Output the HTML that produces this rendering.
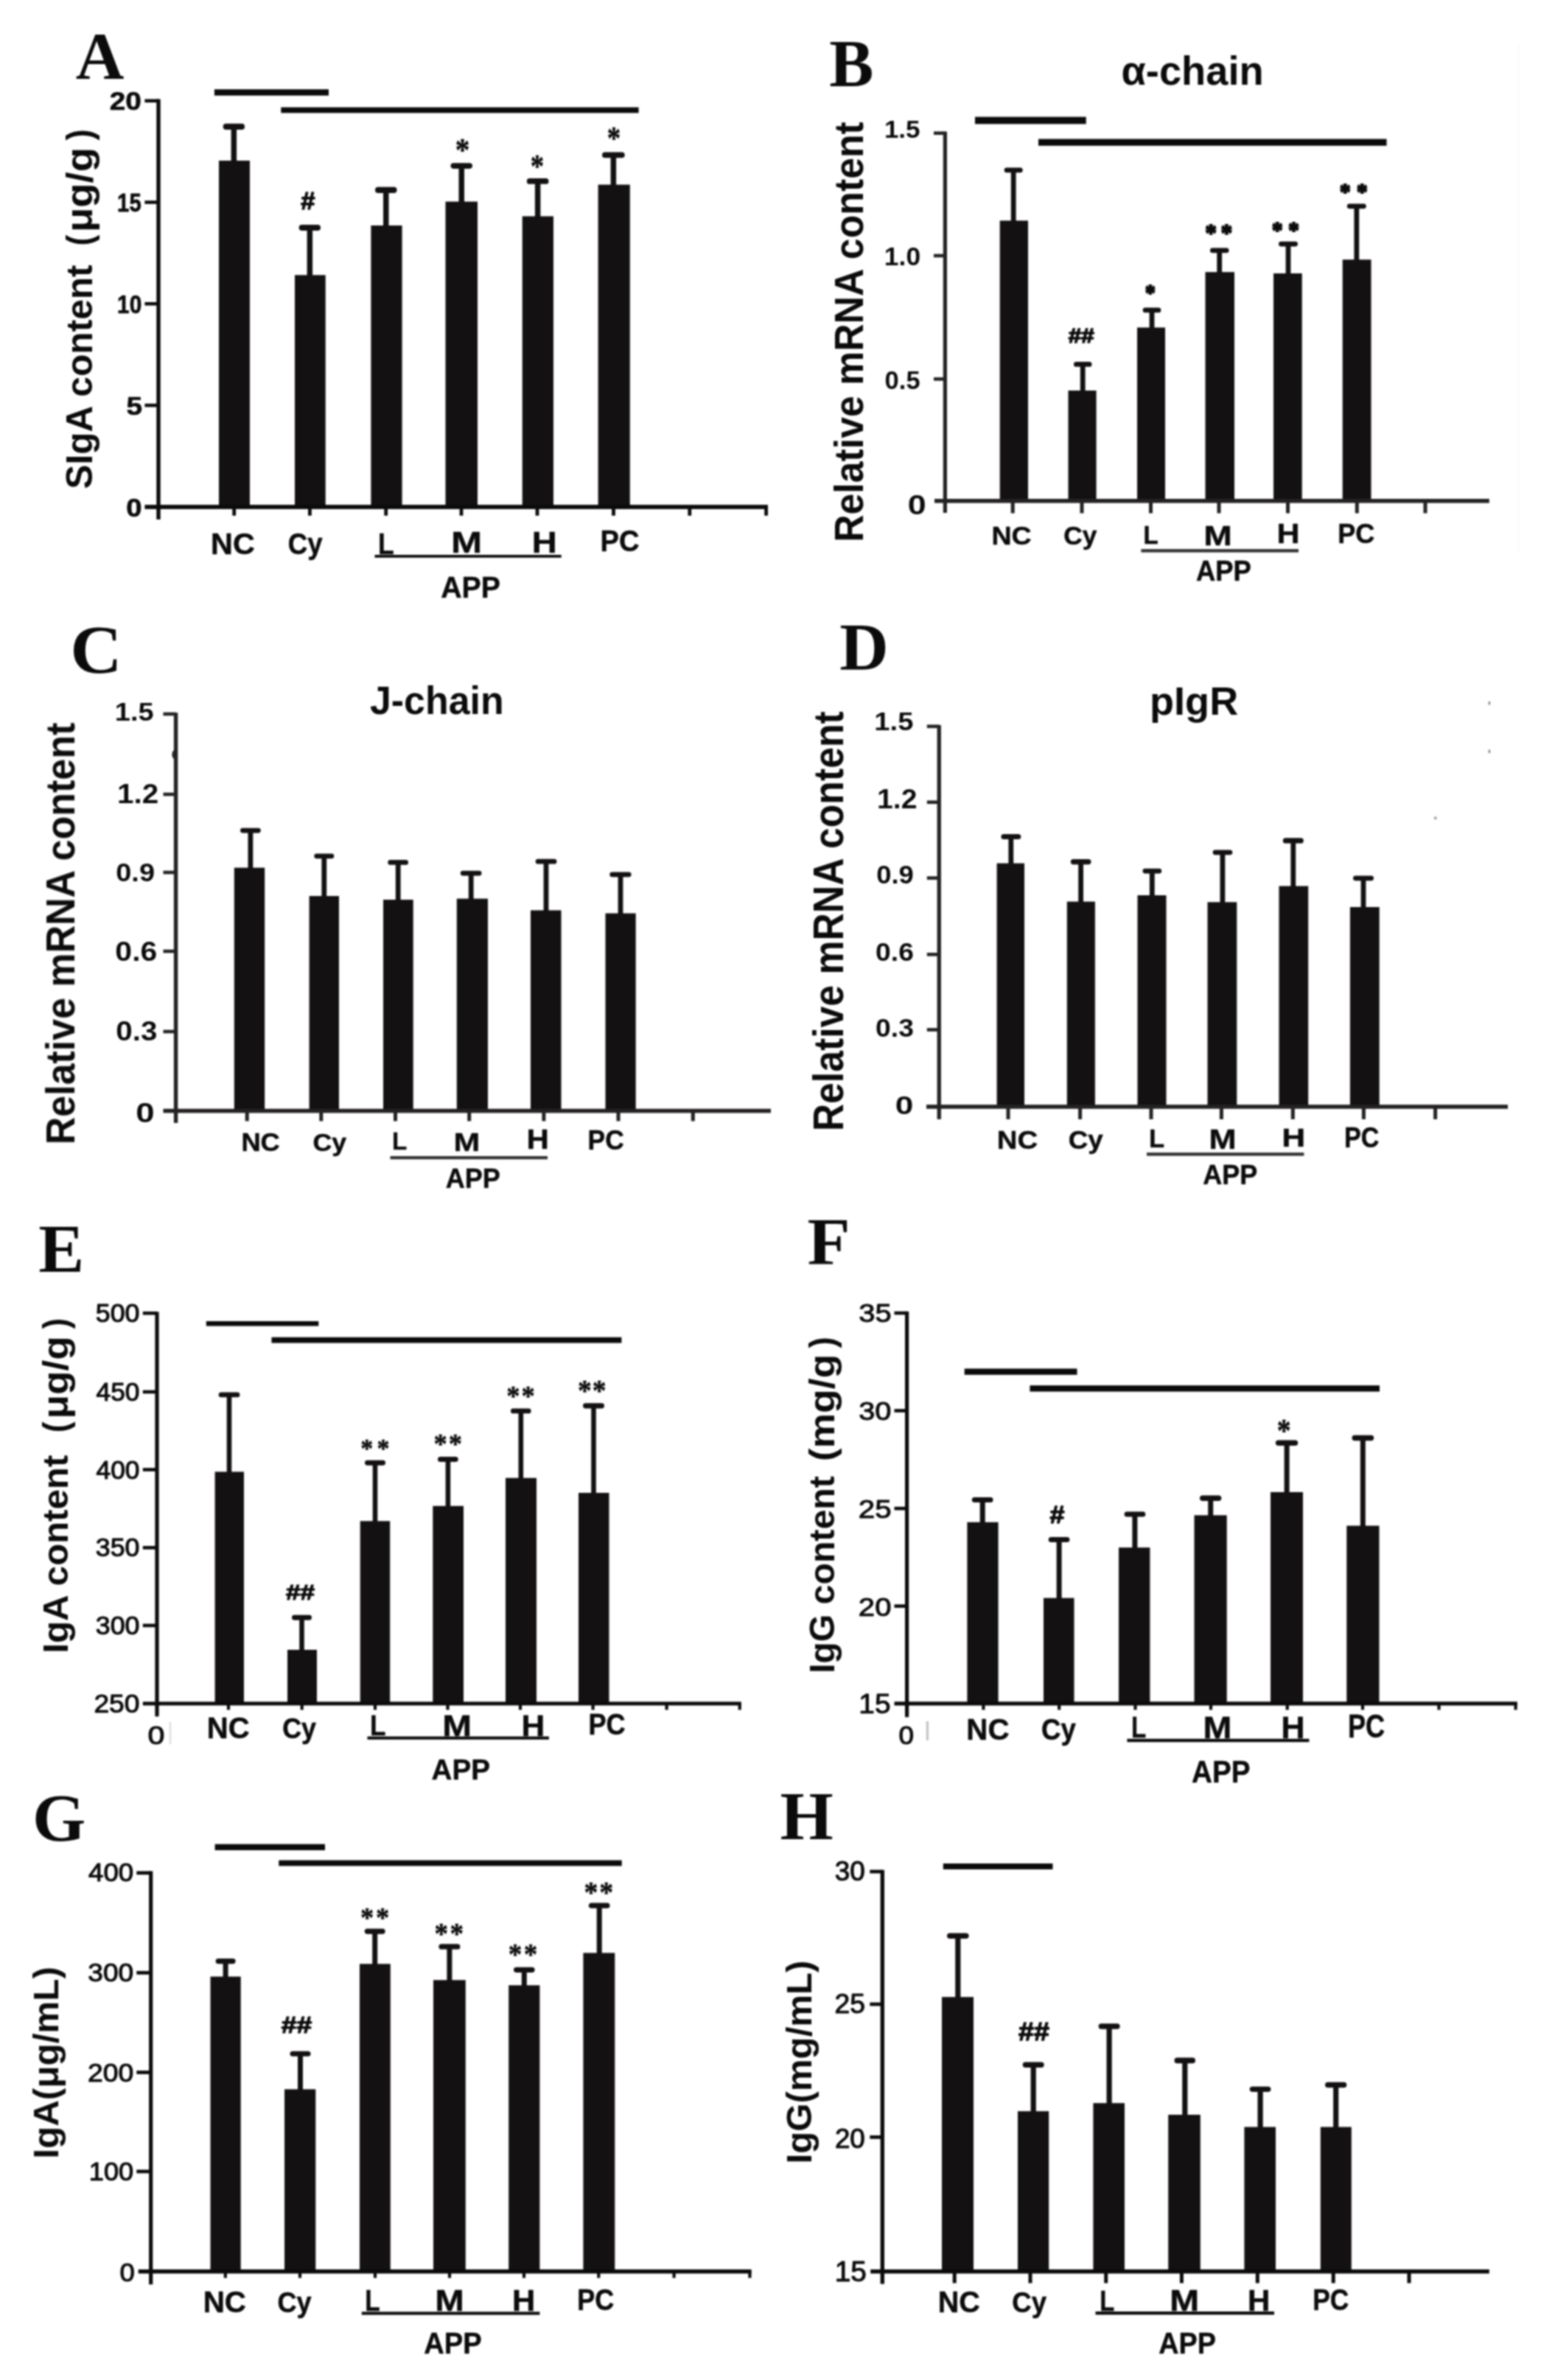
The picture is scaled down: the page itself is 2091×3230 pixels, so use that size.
<!DOCTYPE html>
<html lang="en"><head><meta charset="utf-8"><title>Figure: SIgA, IgA and IgG content</title>
<style>
html,body{margin:0;padding:0;background:#fff;}
body{width:2091px;height:3230px;overflow:hidden;}
svg{display:block;}
text{white-space:pre;}
</style></head><body>
<svg width="2091" height="3230" viewBox="0 0 2091 3230">
<defs><filter id="soft" color-interpolation-filters="sRGB" x="0" y="0" width="2091" height="3230" filterUnits="userSpaceOnUse"><feGaussianBlur stdDeviation="1"/></filter></defs>
<rect x="0" y="0" width="2091" height="3230" fill="#ffffff"/>
<g filter="url(#soft)">
<g id="panel-A">
<rect x="297.0" y="218.0" width="42.0" height="470.0" fill="#141112"/>
<rect x="313.6" y="171.9" width="7.5" height="47.1" fill="#141112"/>
<rect x="302.7" y="167.8" width="29.3" height="8.1" rx="4.0" fill="#141112"/>
<rect x="400.0" y="373.3" width="41.7" height="314.7" fill="#141112"/>
<rect x="416.6" y="309.0" width="7.5" height="65.3" fill="#141112"/>
<rect x="405.6" y="305.0" width="29.4" height="8.0" rx="4.0" fill="#141112"/>
<rect x="503.4" y="306.0" width="42.2" height="382.0" fill="#141112"/>
<rect x="520.0" y="257.9" width="7.5" height="49.1" fill="#141112"/>
<rect x="509.0" y="253.8" width="29.5" height="8.2" rx="4.1" fill="#141112"/>
<rect x="604.5" y="273.6" width="43.5" height="414.4" fill="#141112"/>
<rect x="622.5" y="225.1" width="7.5" height="49.5" fill="#141112"/>
<rect x="611.5" y="221.3" width="29.5" height="7.6" rx="3.8" fill="#141112"/>
<rect x="708.7" y="293.5" width="42.3" height="394.5" fill="#141112"/>
<rect x="725.9" y="245.9" width="7.5" height="48.6" fill="#141112"/>
<rect x="714.8" y="242.0" width="29.7" height="7.8" rx="3.9" fill="#141112"/>
<rect x="811.6" y="250.6" width="43.2" height="437.4" fill="#141112"/>
<rect x="828.6" y="210.4" width="7.5" height="41.2" fill="#141112"/>
<rect x="817.0" y="206.6" width="30.7" height="7.6" rx="3.8" fill="#141112"/>
<rect x="212.3" y="134.5" width="5.4" height="570.5" fill="#0c0b0b"/>
<rect x="196.4" y="685.1" width="845.6" height="5.8" fill="#0c0b0b"/>
<rect x="196.4" y="134.5" width="18.6" height="4.6" fill="#0c0b0b"/>
<rect x="196.4" y="272.2" width="18.6" height="4.6" fill="#0c0b0b"/>
<rect x="196.4" y="410.0" width="18.6" height="4.6" fill="#0c0b0b"/>
<rect x="196.4" y="547.8" width="18.6" height="4.6" fill="#0c0b0b"/>
<rect x="315.3" y="688.0" width="4.8" height="11.8" fill="#0c0b0b"/>
<rect x="418.0" y="688.0" width="4.8" height="11.8" fill="#0c0b0b"/>
<rect x="521.3" y="688.0" width="4.8" height="11.8" fill="#0c0b0b"/>
<rect x="623.6" y="688.0" width="4.8" height="11.8" fill="#0c0b0b"/>
<rect x="726.6" y="688.0" width="4.8" height="11.8" fill="#0c0b0b"/>
<rect x="830.1" y="688.0" width="4.8" height="11.8" fill="#0c0b0b"/>
<rect x="933.4" y="688.0" width="4.8" height="11.8" fill="#0c0b0b"/>
<rect x="1037.2" y="688.0" width="4.8" height="11.8" fill="#0c0b0b"/>
<text transform="translate(148.69 149.30) scale(0.1937 0.1739)" font-family='"Liberation Sans", sans-serif' font-weight="bold" font-size="200" fill="#0c0b0b" stroke="#0c0b0b" stroke-width="3.8" stroke-linejoin="round">20</text>
<text transform="translate(159.09 286.60) scale(0.1468 0.1757)" font-family='"Liberation Sans", sans-serif' font-weight="bold" font-size="200" fill="#0c0b0b" stroke="#0c0b0b" stroke-width="4.3" stroke-linejoin="round">15</text>
<text transform="translate(159.06 424.50) scale(0.1490 0.1739)" font-family='"Liberation Sans", sans-serif' font-weight="bold" font-size="200" fill="#0c0b0b" stroke="#0c0b0b" stroke-width="4.3" stroke-linejoin="round">10</text>
<text transform="translate(171.58 562.89) scale(0.1950 0.1779)" font-family='"Liberation Sans", sans-serif' font-weight="bold" font-size="200" fill="#0c0b0b" stroke="#0c0b0b" stroke-width="3.8" stroke-linejoin="round">5</text>
<text transform="translate(171.22 701.30) scale(0.1916 0.1768)" font-family='"Liberation Sans", sans-serif' font-weight="bold" font-size="200" fill="#0c0b0b" stroke="#0c0b0b" stroke-width="3.8" stroke-linejoin="round">0</text>
<rect x="290.9" y="121.2" width="155.1" height="8.5" fill="#0c0b0b"/>
<rect x="381.3" y="145.6" width="485.3" height="7.7" fill="#0c0b0b"/>
<text transform="translate(408.13 284.35) scale(0.1733 0.1669)" font-family='"Liberation Sans", sans-serif' font-weight="bold" font-size="200" fill="#0c0b0b" stroke="#0c0b0b" stroke-width="7.6" stroke-linejoin="round">#</text>
<text transform="translate(617.68 217.67) scale(0.1964 0.2267)" font-family='"Liberation Serif", serif' font-weight="bold" font-size="200" fill="#0c0b0b" stroke="#0c0b0b" stroke-width="2.4" stroke-linejoin="round">*</text>
<text transform="translate(719.77 239.67) scale(0.1845 0.2267)" font-family='"Liberation Serif", serif' font-weight="bold" font-size="200" fill="#0c0b0b" stroke="#0c0b0b" stroke-width="2.4" stroke-linejoin="round">*</text>
<text transform="translate(823.77 202.29) scale(0.1845 0.2200)" font-family='"Liberation Serif", serif' font-weight="bold" font-size="200" fill="#0c0b0b" stroke="#0c0b0b" stroke-width="2.5" stroke-linejoin="round">*</text>
<text transform="translate(286.06 752.35) scale(0.2070 0.2036)" font-family='"Liberation Sans", sans-serif' font-weight="bold" font-size="200" fill="#0c0b0b" stroke="#0c0b0b" stroke-width="2.4" stroke-linejoin="round">NC</text>
<text transform="translate(390.78 752.35) scale(0.1833 0.2007)" font-family='"Liberation Sans", sans-serif' font-weight="bold" font-size="200" fill="#0c0b0b" stroke="#0c0b0b" stroke-width="2.6" stroke-linejoin="round">Cy</text>
<text transform="translate(512.94 751.75) scale(0.1777 0.2029)" font-family='"Liberation Sans", sans-serif' font-weight="bold" font-size="200" fill="#0c0b0b" stroke="#0c0b0b" stroke-width="2.6" stroke-linejoin="round">L</text>
<text transform="translate(611.95 749.75) scale(0.2536 0.2014)" font-family='"Liberation Sans", sans-serif' font-weight="bold" font-size="200" fill="#0c0b0b" stroke="#0c0b0b" stroke-width="2.2" stroke-linejoin="round">M</text>
<text transform="translate(721.78 749.75) scale(0.2364 0.2014)" font-family='"Liberation Sans", sans-serif' font-weight="bold" font-size="200" fill="#0c0b0b" stroke="#0c0b0b" stroke-width="2.3" stroke-linejoin="round">H</text>
<text transform="translate(814.47 748.45) scale(0.1907 0.2080)" font-family='"Liberation Sans", sans-serif' font-weight="bold" font-size="200" fill="#0c0b0b" stroke="#0c0b0b" stroke-width="2.5" stroke-linejoin="round">PC</text>
<rect x="508.5" y="753.0" width="253.2" height="3.8" fill="#0c0b0b"/>
<text transform="translate(598.27 810.75) scale(0.1963 0.2029)" font-family='"Liberation Sans", sans-serif' font-weight="bold" font-size="200" fill="#0c0b0b" stroke="#0c0b0b" stroke-width="2.5" stroke-linejoin="round">APP</text>
<text transform="translate(124.50 662.20) rotate(-90) scale(0.2483 0.2471)" x="-6.0" font-family='"Liberation Sans", sans-serif' font-weight="bold" font-size="200" fill="#0c0b0b">SIgA content</text>
<text transform="translate(124.50 331.40) rotate(-90) scale(0.2214 0.2471)" x="-10.0" font-family='"Liberation Sans", sans-serif' font-weight="bold" font-size="200" fill="#0c0b0b">(</text>
<text transform="translate(124.50 311.20) rotate(-90) scale(0.2722 0.2471)" x="-14.0" font-family='"Liberation Sans", sans-serif' font-weight="bold" font-size="200" fill="#0c0b0b">μg/g</text>
<text transform="translate(124.50 190.50) rotate(-90) scale(0.2316 0.2471)" x="0.0" font-family='"Liberation Sans", sans-serif' font-weight="bold" font-size="200" fill="#0c0b0b">)</text>
<text transform="translate(102.69 107.00) scale(0.4546 0.4545)" font-family='"Liberation Serif", serif' font-weight="bold" font-size="200" fill="#0c0b0b">A</text>
</g>
<g id="panel-B">
<rect x="1356.7" y="299.4" width="38.3" height="380.4" fill="#141112"/>
<rect x="1371.8" y="230.8" width="6.8" height="69.5" fill="#141112"/>
<rect x="1362.7" y="227.5" width="25.0" height="6.7" rx="3.3" fill="#141112"/>
<rect x="1449.5" y="530.0" width="38.1" height="149.8" fill="#141112"/>
<rect x="1465.8" y="494.4" width="6.8" height="36.6" fill="#141112"/>
<rect x="1457.0" y="491.0" width="24.5" height="6.8" rx="3.4" fill="#141112"/>
<rect x="1543.0" y="444.5" width="38.0" height="235.3" fill="#141112"/>
<rect x="1559.6" y="420.9" width="6.8" height="24.6" fill="#141112"/>
<rect x="1550.7" y="417.5" width="24.6" height="6.8" rx="3.4" fill="#141112"/>
<rect x="1635.5" y="369.2" width="39.5" height="310.6" fill="#141112"/>
<rect x="1651.3" y="339.9" width="6.8" height="30.3" fill="#141112"/>
<rect x="1642.0" y="336.5" width="25.5" height="6.7" rx="3.3" fill="#141112"/>
<rect x="1728.0" y="371.0" width="38.7" height="308.8" fill="#141112"/>
<rect x="1744.6" y="331.1" width="6.8" height="40.9" fill="#141112"/>
<rect x="1735.0" y="327.7" width="26.0" height="6.8" rx="3.4" fill="#141112"/>
<rect x="1821.7" y="352.3" width="38.8" height="327.5" fill="#141112"/>
<rect x="1837.4" y="279.8" width="6.8" height="73.5" fill="#141112"/>
<rect x="1827.8" y="276.4" width="26.0" height="6.8" rx="3.4" fill="#141112"/>
<rect x="1279.8" y="178.6" width="5.2" height="517.4" fill="#242222"/>
<rect x="1268.0" y="677.0" width="752.8" height="5.6" fill="#242222"/>
<rect x="1267.0" y="178.4" width="15.4" height="4.6" fill="#242222"/>
<rect x="1267.0" y="344.7" width="15.4" height="4.6" fill="#242222"/>
<rect x="1267.0" y="512.1" width="15.4" height="4.6" fill="#242222"/>
<rect x="1371.7" y="679.8" width="5.0" height="16.7" fill="#242222"/>
<rect x="1465.5" y="679.8" width="5.0" height="16.7" fill="#242222"/>
<rect x="1559.0" y="679.8" width="5.0" height="16.7" fill="#242222"/>
<rect x="1651.5" y="679.8" width="5.0" height="16.7" fill="#242222"/>
<rect x="1745.0" y="679.8" width="5.0" height="16.7" fill="#242222"/>
<rect x="1838.8" y="679.8" width="5.0" height="16.7" fill="#242222"/>
<rect x="1931.5" y="679.8" width="5.0" height="16.7" fill="#242222"/>
<text transform="translate(1199.90 186.66) scale(0.1751 0.1686)" font-family='"Liberation Sans", sans-serif' font-weight="bold" font-size="200" fill="#0c0b0b">1.5</text>
<text transform="translate(1199.87 359.65) scale(0.1771 0.1725)" font-family='"Liberation Sans", sans-serif' font-weight="bold" font-size="200" fill="#0c0b0b">1.0</text>
<text transform="translate(1200.62 527.65) scale(0.1725 0.1761)" font-family='"Liberation Sans", sans-serif' font-weight="bold" font-size="200" fill="#0c0b0b">0.5</text>
<text transform="translate(1231.71 698.24) scale(0.2242 0.1803)" font-family='"Liberation Sans", sans-serif' font-weight="bold" font-size="200" fill="#0c0b0b">0</text>
<rect x="1323.0" y="158.6" width="150.7" height="9.7" fill="#0c0b0b"/>
<rect x="1409.0" y="188.6" width="472.5" height="9.2" fill="#0c0b0b"/>
<text transform="translate(1449.78 465.05) scale(0.1574 0.1382)" font-family='"Liberation Sans", sans-serif' font-weight="bold" font-size="200" fill="#0c0b0b" stroke="#0c0b0b" stroke-width="10.1" stroke-linejoin="round">##</text>
<text transform="translate(1553.77 407.67) scale(0.1417 0.1573)" font-family='"Liberation Serif", serif' font-weight="bold" font-size="200" fill="#0c0b0b" stroke="#0c0b0b" stroke-width="12.0" stroke-linejoin="round">*</text>
<text transform="translate(1635.14 327.12) scale(0.1578 0.1653)" font-family='"Liberation Serif", serif' font-weight="bold" font-size="200" fill="#0c0b0b" stroke="#0c0b0b" stroke-width="11.1" stroke-linejoin="round">*</text>
<text transform="translate(1656.59 327.12) scale(0.1578 0.1653)" font-family='"Liberation Serif", serif' font-weight="bold" font-size="200" fill="#0c0b0b" stroke="#0c0b0b" stroke-width="11.1" stroke-linejoin="round">*</text>
<text transform="translate(1725.70 323.37) scale(0.1502 0.1573)" font-family='"Liberation Serif", serif' font-weight="bold" font-size="200" fill="#0c0b0b" stroke="#0c0b0b" stroke-width="11.7" stroke-linejoin="round">*</text>
<text transform="translate(1747.98 323.37) scale(0.1502 0.1573)" font-family='"Liberation Serif", serif' font-weight="bold" font-size="200" fill="#0c0b0b" stroke="#0c0b0b" stroke-width="11.7" stroke-linejoin="round">*</text>
<text transform="translate(1817.70 271.07) scale(0.1502 0.1573)" font-family='"Liberation Serif", serif' font-weight="bold" font-size="200" fill="#0c0b0b" stroke="#0c0b0b" stroke-width="11.7" stroke-linejoin="round">*</text>
<text transform="translate(1840.78 271.07) scale(0.1502 0.1573)" font-family='"Liberation Serif", serif' font-weight="bold" font-size="200" fill="#0c0b0b" stroke="#0c0b0b" stroke-width="11.7" stroke-linejoin="round">*</text>
<text transform="translate(1345.41 738.75) scale(0.1878 0.1739)" font-family='"Liberation Sans", sans-serif' font-weight="bold" font-size="200" fill="#0c0b0b" stroke="#0c0b0b" stroke-width="2.8" stroke-linejoin="round">NC</text>
<text transform="translate(1443.24 738.75) scale(0.1764 0.1714)" font-family='"Liberation Sans", sans-serif' font-weight="bold" font-size="200" fill="#0c0b0b" stroke="#0c0b0b" stroke-width="2.9" stroke-linejoin="round">Cy</text>
<text transform="translate(1551.49 738.15) scale(0.1660 0.1746)" font-family='"Liberation Sans", sans-serif' font-weight="bold" font-size="200" fill="#0c0b0b" stroke="#0c0b0b" stroke-width="2.9" stroke-linejoin="round">L</text>
<text transform="translate(1633.23 739.75) scale(0.2321 0.1812)" font-family='"Liberation Sans", sans-serif' font-weight="bold" font-size="200" fill="#0c0b0b" stroke="#0c0b0b" stroke-width="2.4" stroke-linejoin="round">M</text>
<text transform="translate(1732.44 737.15) scale(0.2161 0.1841)" font-family='"Liberation Sans", sans-serif' font-weight="bold" font-size="200" fill="#0c0b0b" stroke="#0c0b0b" stroke-width="2.5" stroke-linejoin="round">H</text>
<text transform="translate(1815.20 737.15) scale(0.1807 0.1891)" font-family='"Liberation Sans", sans-serif' font-weight="bold" font-size="200" fill="#0c0b0b" stroke="#0c0b0b" stroke-width="2.7" stroke-linejoin="round">PC</text>
<rect x="1548.4" y="745.2" width="213.6" height="4.4" fill="#333131"/>
<text transform="translate(1623.04 787.75) scale(0.1820 0.1920)" font-family='"Liberation Sans", sans-serif' font-weight="bold" font-size="200" fill="#0c0b0b" stroke="#0c0b0b" stroke-width="2.7" stroke-linejoin="round">APP</text>
<text transform="translate(1521.53 115.50) scale(0.2712 0.2793)" font-family='"Liberation Sans", sans-serif' font-weight="bold" font-size="200" fill="#0c0b0b">α-chain</text>
<text transform="translate(1171.30 732.50) rotate(-90) scale(0.2590 0.2739)" x="-13.0" font-family='"Liberation Sans", sans-serif' font-weight="bold" font-size="200" fill="#0c0b0b">Relative mRNA content</text>
<text transform="translate(1125.25 116.54) scale(0.4512 0.4591)" font-family='"Liberation Serif", serif' font-weight="bold" font-size="200" fill="#0c0b0b">B</text>
<rect x="2060.6" y="60" width="1.6" height="690" fill="#f8f8f8"/>
</g>
<g id="panel-C">
<rect x="317.8" y="1177.6" width="41.4" height="330.0" fill="#141112"/>
<rect x="336.5" y="1127.1" width="6.8" height="51.5" fill="#141112"/>
<rect x="326.0" y="1123.7" width="27.8" height="6.8" rx="3.4" fill="#141112"/>
<rect x="419.6" y="1216.0" width="40.4" height="291.6" fill="#141112"/>
<rect x="436.4" y="1161.8" width="6.8" height="55.2" fill="#141112"/>
<rect x="426.3" y="1158.4" width="27.0" height="6.8" rx="3.4" fill="#141112"/>
<rect x="520.0" y="1221.0" width="40.7" height="286.6" fill="#141112"/>
<rect x="536.8" y="1170.4" width="6.8" height="51.6" fill="#141112"/>
<rect x="526.3" y="1167.0" width="27.7" height="6.8" rx="3.4" fill="#141112"/>
<rect x="619.8" y="1219.6" width="42.2" height="288.0" fill="#141112"/>
<rect x="635.8" y="1185.1" width="6.8" height="35.5" fill="#141112"/>
<rect x="624.8" y="1181.7" width="28.7" height="6.8" rx="3.4" fill="#141112"/>
<rect x="720.0" y="1235.4" width="41.5" height="272.2" fill="#141112"/>
<rect x="737.6" y="1169.2" width="6.8" height="67.2" fill="#141112"/>
<rect x="726.7" y="1165.8" width="28.7" height="6.8" rx="3.4" fill="#141112"/>
<rect x="821.5" y="1239.5" width="41.2" height="268.1" fill="#141112"/>
<rect x="838.6" y="1186.8" width="6.8" height="53.7" fill="#141112"/>
<rect x="827.3" y="1183.4" width="29.3" height="6.8" rx="3.4" fill="#141112"/>
<rect x="235.9" y="967.2" width="5.4" height="556.8" fill="#242222"/>
<rect x="221.5" y="1504.8" width="824.5" height="5.6" fill="#242222"/>
<rect x="221.5" y="966.7" width="17.1" height="4.6" fill="#242222"/>
<rect x="221.5" y="1075.7" width="17.1" height="4.6" fill="#242222"/>
<rect x="221.5" y="1181.7" width="17.1" height="4.6" fill="#242222"/>
<rect x="221.5" y="1288.7" width="17.1" height="4.6" fill="#242222"/>
<rect x="221.5" y="1397.7" width="17.1" height="4.6" fill="#242222"/>
<rect x="332.7" y="1507.6" width="5.0" height="13.9" fill="#242222"/>
<rect x="433.3" y="1507.6" width="5.0" height="13.9" fill="#242222"/>
<rect x="534.0" y="1507.6" width="5.0" height="13.9" fill="#242222"/>
<rect x="634.2" y="1507.6" width="5.0" height="13.9" fill="#242222"/>
<rect x="735.4" y="1507.6" width="5.0" height="13.9" fill="#242222"/>
<rect x="836.5" y="1507.6" width="5.0" height="13.9" fill="#242222"/>
<rect x="937.8" y="1507.6" width="5.0" height="13.9" fill="#242222"/>
<text transform="translate(155.71 977.65) scale(0.1904 0.1764)" font-family='"Liberation Sans", sans-serif' font-weight="bold" font-size="200" fill="#0c0b0b">1.5</text>
<text transform="translate(159.07 1090.00) scale(0.2027 0.1800)" font-family='"Liberation Sans", sans-serif' font-weight="bold" font-size="200" fill="#0c0b0b">1.2</text>
<text transform="translate(157.28 1195.65) scale(0.1897 0.1761)" font-family='"Liberation Sans", sans-serif' font-weight="bold" font-size="200" fill="#0c0b0b">0.9</text>
<text transform="translate(156.36 1304.24) scale(0.2053 0.1803)" font-family='"Liberation Sans", sans-serif' font-weight="bold" font-size="200" fill="#0c0b0b">0.6</text>
<text transform="translate(157.18 1412.24) scale(0.2023 0.1803)" font-family='"Liberation Sans", sans-serif' font-weight="bold" font-size="200" fill="#0c0b0b">0.3</text>
<text transform="translate(184.17 1523.23) scale(0.2284 0.1838)" font-family='"Liberation Sans", sans-serif' font-weight="bold" font-size="200" fill="#0c0b0b">0</text>
<text transform="translate(327.39 1562.45) scale(0.1815 0.1725)" font-family='"Liberation Sans", sans-serif' font-weight="bold" font-size="200" fill="#0c0b0b" stroke="#0c0b0b" stroke-width="2.8" stroke-linejoin="round">NC</text>
<text transform="translate(424.42 1562.45) scale(0.1785 0.1700)" font-family='"Liberation Sans", sans-serif' font-weight="bold" font-size="200" fill="#0c0b0b" stroke="#0c0b0b" stroke-width="2.9" stroke-linejoin="round">Cy</text>
<text transform="translate(532.10 1560.25) scale(0.1650 0.1688)" font-family='"Liberation Sans", sans-serif' font-weight="bold" font-size="200" fill="#0c0b0b" stroke="#0c0b0b" stroke-width="3.0" stroke-linejoin="round">L</text>
<text transform="translate(615.46 1562.45) scale(0.2143 0.1797)" font-family='"Liberation Sans", sans-serif' font-weight="bold" font-size="200" fill="#0c0b0b" stroke="#0c0b0b" stroke-width="2.5" stroke-linejoin="round">M</text>
<text transform="translate(714.52 1559.15) scale(0.2102 0.1804)" font-family='"Liberation Sans", sans-serif' font-weight="bold" font-size="200" fill="#0c0b0b" stroke="#0c0b0b" stroke-width="2.6" stroke-linejoin="round">H</text>
<text transform="translate(797.55 1560.15) scale(0.1768 0.1877)" font-family='"Liberation Sans", sans-serif' font-weight="bold" font-size="200" fill="#0c0b0b" stroke="#0c0b0b" stroke-width="2.7" stroke-linejoin="round">PC</text>
<rect x="529.5" y="1569.0" width="213.5" height="4.3" fill="#333131"/>
<text transform="translate(604.85 1611.55) scale(0.1800 0.1870)" font-family='"Liberation Sans", sans-serif' font-weight="bold" font-size="200" fill="#0c0b0b" stroke="#0c0b0b" stroke-width="2.7" stroke-linejoin="round">APP</text>
<text transform="translate(501.92 968.50) scale(0.2596 0.2676)" font-family='"Liberation Sans", sans-serif' font-weight="bold" font-size="200" fill="#0c0b0b">J-chain</text>
<text transform="translate(100.70 1550.00) rotate(-90) scale(0.2599 0.2768)" x="-13.0" font-family='"Liberation Sans", sans-serif' font-weight="bold" font-size="200" fill="#0c0b0b">Relative mRNA content</text>
<text transform="translate(95.13 912.86) scale(0.4874 0.4687)" font-family='"Liberation Serif", serif' font-weight="bold" font-size="200" fill="#0c0b0b">C</text>
<ellipse cx="237" cy="1024" rx="3.6" ry="6" fill="#242222"/>
</g>
<g id="panel-D">
<rect x="1352.6" y="1171.6" width="37.4" height="330.4" fill="#141112"/>
<rect x="1368.4" y="1135.5" width="6.8" height="37.1" fill="#141112"/>
<rect x="1358.4" y="1132.0" width="26.9" height="7.0" rx="3.5" fill="#141112"/>
<rect x="1447.8" y="1223.6" width="38.1" height="278.4" fill="#141112"/>
<rect x="1463.2" y="1169.6" width="6.8" height="55.0" fill="#141112"/>
<rect x="1452.8" y="1166.0" width="27.7" height="7.2" rx="3.6" fill="#141112"/>
<rect x="1543.5" y="1215.0" width="39.0" height="287.0" fill="#141112"/>
<rect x="1559.9" y="1182.1" width="6.8" height="33.9" fill="#141112"/>
<rect x="1550.5" y="1178.7" width="25.7" height="6.8" rx="3.4" fill="#141112"/>
<rect x="1638.5" y="1224.3" width="39.8" height="277.7" fill="#141112"/>
<rect x="1655.5" y="1156.8" width="6.8" height="68.5" fill="#141112"/>
<rect x="1645.6" y="1153.4" width="26.7" height="6.8" rx="3.4" fill="#141112"/>
<rect x="1735.5" y="1202.5" width="39.7" height="299.5" fill="#141112"/>
<rect x="1751.4" y="1140.9" width="6.8" height="62.6" fill="#141112"/>
<rect x="1740.8" y="1137.2" width="28.0" height="7.4" rx="3.7" fill="#141112"/>
<rect x="1831.9" y="1231.0" width="39.8" height="271.0" fill="#141112"/>
<rect x="1846.6" y="1191.8" width="6.8" height="40.2" fill="#141112"/>
<rect x="1836.0" y="1188.4" width="28.0" height="6.8" rx="3.4" fill="#141112"/>
<rect x="1271.6" y="984.0" width="5.3" height="535.0" fill="#242222"/>
<rect x="1257.0" y="1499.2" width="789.0" height="5.6" fill="#242222"/>
<rect x="1257.8" y="983.5" width="16.5" height="4.6" fill="#242222"/>
<rect x="1257.8" y="1086.4" width="16.5" height="4.6" fill="#242222"/>
<rect x="1257.8" y="1189.3" width="16.5" height="4.6" fill="#242222"/>
<rect x="1257.8" y="1293.0" width="16.5" height="4.6" fill="#242222"/>
<rect x="1257.8" y="1395.2" width="16.5" height="4.6" fill="#242222"/>
<rect x="1365.5" y="1502.0" width="5.0" height="17.0" fill="#242222"/>
<rect x="1463.1" y="1502.0" width="5.0" height="17.0" fill="#242222"/>
<rect x="1559.5" y="1502.0" width="5.0" height="17.0" fill="#242222"/>
<rect x="1654.9" y="1502.0" width="5.0" height="17.0" fill="#242222"/>
<rect x="1751.8" y="1502.0" width="5.0" height="17.0" fill="#242222"/>
<rect x="1847.9" y="1502.0" width="5.0" height="17.0" fill="#242222"/>
<rect x="1945.1" y="1502.0" width="5.0" height="17.0" fill="#242222"/>
<text transform="translate(1186.30 991.05) scale(0.1916 0.1757)" font-family='"Liberation Sans", sans-serif' font-weight="bold" font-size="200" fill="#0c0b0b">1.5</text>
<text transform="translate(1190.05 1096.70) scale(0.1961 0.1807)" font-family='"Liberation Sans", sans-serif' font-weight="bold" font-size="200" fill="#0c0b0b">1.2</text>
<text transform="translate(1189.24 1199.24) scale(0.1821 0.1782)" font-family='"Liberation Sans", sans-serif' font-weight="bold" font-size="200" fill="#0c0b0b">0.9</text>
<text transform="translate(1188.11 1304.24) scale(0.1863 0.1782)" font-family='"Liberation Sans", sans-serif' font-weight="bold" font-size="200" fill="#0c0b0b">0.6</text>
<text transform="translate(1188.11 1407.14) scale(0.1863 0.1796)" font-family='"Liberation Sans", sans-serif' font-weight="bold" font-size="200" fill="#0c0b0b">0.3</text>
<text transform="translate(1214.83 1511.65) scale(0.2211 0.1775)" font-family='"Liberation Sans", sans-serif' font-weight="bold" font-size="200" fill="#0c0b0b">0</text>
<text transform="translate(1352.76 1559.05) scale(0.1919 0.1797)" font-family='"Liberation Sans", sans-serif' font-weight="bold" font-size="200" fill="#0c0b0b" stroke="#0c0b0b" stroke-width="2.7" stroke-linejoin="round">NC</text>
<text transform="translate(1449.78 1559.05) scale(0.1837 0.1771)" font-family='"Liberation Sans", sans-serif' font-weight="bold" font-size="200" fill="#0c0b0b" stroke="#0c0b0b" stroke-width="2.8" stroke-linejoin="round">Cy</text>
<text transform="translate(1559.00 1556.75) scale(0.1728 0.1754)" font-family='"Liberation Sans", sans-serif' font-weight="bold" font-size="200" fill="#0c0b0b" stroke="#0c0b0b" stroke-width="2.9" stroke-linejoin="round">L</text>
<text transform="translate(1640.33 1559.05) scale(0.2250 0.1841)" font-family='"Liberation Sans", sans-serif' font-weight="bold" font-size="200" fill="#0c0b0b" stroke="#0c0b0b" stroke-width="2.4" stroke-linejoin="round">M</text>
<text transform="translate(1739.17 1555.75) scale(0.2212 0.1797)" font-family='"Liberation Sans", sans-serif' font-weight="bold" font-size="200" fill="#0c0b0b" stroke="#0c0b0b" stroke-width="2.5" stroke-linejoin="round">H</text>
<text transform="translate(1824.03 1556.75) scale(0.1707 0.1920)" font-family='"Liberation Sans", sans-serif' font-weight="bold" font-size="200" fill="#0c0b0b" stroke="#0c0b0b" stroke-width="2.8" stroke-linejoin="round">PC</text>
<rect x="1556.0" y="1564.2" width="213.4" height="4.4" fill="#333131"/>
<text transform="translate(1632.15 1607.25) scale(0.1800 0.1862)" font-family='"Liberation Sans", sans-serif' font-weight="bold" font-size="200" fill="#0c0b0b" stroke="#0c0b0b" stroke-width="2.7" stroke-linejoin="round">APP</text>
<text transform="translate(1560.09 970.00) scale(0.2703 0.2681)" font-family='"Liberation Sans", sans-serif' font-weight="bold" font-size="200" fill="#0c0b0b">pIgR</text>
<text transform="translate(1144.00 1532.00) rotate(-90) scale(0.2587 0.2826)" x="-13.0" font-family='"Liberation Sans", sans-serif' font-weight="bold" font-size="200" fill="#0c0b0b">Relative mRNA content</text>
<text transform="translate(1139.32 909.40) scale(0.4606 0.4557)" font-family='"Liberation Serif", serif' font-weight="bold" font-size="200" fill="#0c0b0b">D</text>
<rect x="2019.6" y="952" width="2.6" height="4.5" fill="#8a8a8a"/>
<rect x="2019.6" y="1017.5" width="2.6" height="4.5" fill="#8a8a8a"/>
<rect x="1946" y="1108.5" width="3.4" height="3.4" fill="#9a9a9a"/>
</g>
<g id="panel-E">
<rect x="291.6" y="1997.4" width="39.4" height="314.6" fill="#141112"/>
<rect x="307.7" y="1892.8" width="6.6" height="105.6" fill="#141112"/>
<rect x="296.7" y="1889.4" width="28.7" height="6.9" rx="3.4" fill="#141112"/>
<rect x="390.0" y="2239.0" width="40.0" height="73.0" fill="#141112"/>
<rect x="406.2" y="2195.2" width="6.6" height="44.8" fill="#141112"/>
<rect x="396.0" y="2191.8" width="27.0" height="6.9" rx="3.4" fill="#141112"/>
<rect x="488.7" y="2064.3" width="40.5" height="247.7" fill="#141112"/>
<rect x="505.7" y="1985.2" width="6.6" height="80.1" fill="#141112"/>
<rect x="495.0" y="1981.8" width="28.0" height="6.9" rx="3.5" fill="#141112"/>
<rect x="587.3" y="2043.8" width="41.7" height="268.2" fill="#141112"/>
<rect x="604.6" y="1980.5" width="6.6" height="64.3" fill="#141112"/>
<rect x="594.0" y="1977.0" width="27.7" height="7.0" rx="3.5" fill="#141112"/>
<rect x="686.0" y="2005.8" width="42.0" height="306.2" fill="#141112"/>
<rect x="703.5" y="1914.8" width="6.6" height="92.0" fill="#141112"/>
<rect x="693.0" y="1911.4" width="27.6" height="6.9" rx="3.4" fill="#141112"/>
<rect x="785.0" y="2026.0" width="41.5" height="286.0" fill="#141112"/>
<rect x="802.2" y="1907.8" width="6.6" height="119.2" fill="#141112"/>
<rect x="791.0" y="1904.2" width="29.0" height="7.2" rx="3.6" fill="#141112"/>
<rect x="210.4" y="1780.3" width="5.2" height="549.2" fill="#0c0b0b"/>
<rect x="193.8" y="2309.5" width="812.0" height="5.0" fill="#0c0b0b"/>
<rect x="193.8" y="1779.9" width="19.2" height="4.6" fill="#0c0b0b"/>
<rect x="193.8" y="1886.7" width="19.2" height="4.6" fill="#0c0b0b"/>
<rect x="193.8" y="1992.2" width="19.2" height="4.6" fill="#0c0b0b"/>
<rect x="193.8" y="2098.1" width="19.2" height="4.6" fill="#0c0b0b"/>
<rect x="193.8" y="2203.7" width="19.2" height="4.6" fill="#0c0b0b"/>
<rect x="307.9" y="2312.0" width="4.2" height="8.5" fill="#0c0b0b"/>
<rect x="407.6" y="2312.0" width="4.2" height="8.5" fill="#0c0b0b"/>
<rect x="506.9" y="2312.0" width="4.2" height="8.5" fill="#0c0b0b"/>
<rect x="605.4" y="2312.0" width="4.2" height="8.5" fill="#0c0b0b"/>
<rect x="703.9" y="2312.0" width="4.2" height="8.5" fill="#0c0b0b"/>
<rect x="802.5" y="2312.0" width="4.2" height="8.5" fill="#0c0b0b"/>
<rect x="902.5" y="2312.0" width="4.2" height="8.5" fill="#0c0b0b"/>
<rect x="1001.6" y="2312.0" width="4.2" height="8.5" fill="#0c0b0b"/>
<text transform="translate(129.82 1794.16) scale(0.1789 0.1718)" font-family='"Liberation Sans", sans-serif' font-weight="normal" font-size="200" fill="#0c0b0b" stroke="#0c0b0b" stroke-width="6.3" stroke-linejoin="round">500</text>
<text transform="translate(130.54 1900.56) scale(0.1767 0.1718)" font-family='"Liberation Sans", sans-serif' font-weight="normal" font-size="200" fill="#0c0b0b" stroke="#0c0b0b" stroke-width="6.3" stroke-linejoin="round">450</text>
<text transform="translate(130.54 2006.56) scale(0.1767 0.1718)" font-family='"Liberation Sans", sans-serif' font-weight="normal" font-size="200" fill="#0c0b0b" stroke="#0c0b0b" stroke-width="6.3" stroke-linejoin="round">400</text>
<text transform="translate(129.82 2112.16) scale(0.1789 0.1718)" font-family='"Liberation Sans", sans-serif' font-weight="normal" font-size="200" fill="#0c0b0b" stroke="#0c0b0b" stroke-width="6.3" stroke-linejoin="round">350</text>
<text transform="translate(129.82 2218.06) scale(0.1789 0.1718)" font-family='"Liberation Sans", sans-serif' font-weight="normal" font-size="200" fill="#0c0b0b" stroke="#0c0b0b" stroke-width="6.3" stroke-linejoin="round">300</text>
<text transform="translate(127.39 2323.84) scale(0.1864 0.1789)" font-family='"Liberation Sans", sans-serif' font-weight="normal" font-size="200" fill="#0c0b0b" stroke="#0c0b0b" stroke-width="6.0" stroke-linejoin="round">250</text>
<text transform="translate(200.40 2367.10) scale(0.2062 0.1754)" font-family='"Liberation Sans", sans-serif' font-weight="normal" font-size="200" fill="#0c0b0b" stroke="#0c0b0b" stroke-width="5.8" stroke-linejoin="round">0</text>
<rect x="279.8" y="1793.0" width="152.5" height="6.6" fill="#0c0b0b"/>
<rect x="368.5" y="1814.8" width="474.9" height="7.8" fill="#0c0b0b"/>
<text transform="translate(387.92 2170.95) scale(0.1764 0.1515)" font-family='"Liberation Sans", sans-serif' font-weight="bold" font-size="200" fill="#0c0b0b" stroke="#0c0b0b" stroke-width="7.9" stroke-linejoin="round">##</text>
<text transform="translate(489.18 1978.01) scale(0.1707 0.1800)" font-family='"Liberation Serif", serif' font-weight="bold" font-size="200" fill="#0c0b0b" stroke="#0c0b0b" stroke-width="2.9" stroke-linejoin="round">*</text>
<text transform="translate(511.54 1978.01) scale(0.1707 0.1800)" font-family='"Liberation Serif", serif' font-weight="bold" font-size="200" fill="#0c0b0b" stroke="#0c0b0b" stroke-width="2.9" stroke-linejoin="round">*</text>
<text transform="translate(588.48 1971.77) scale(0.1833 0.1933)" font-family='"Liberation Serif", serif' font-weight="bold" font-size="200" fill="#0c0b0b" stroke="#0c0b0b" stroke-width="2.7" stroke-linejoin="round">*</text>
<text transform="translate(608.68 1971.77) scale(0.1833 0.1933)" font-family='"Liberation Serif", serif' font-weight="bold" font-size="200" fill="#0c0b0b" stroke="#0c0b0b" stroke-width="2.7" stroke-linejoin="round">*</text>
<text transform="translate(687.28 1906.77) scale(0.1833 0.1933)" font-family='"Liberation Serif", serif' font-weight="bold" font-size="200" fill="#0c0b0b" stroke="#0c0b0b" stroke-width="2.7" stroke-linejoin="round">*</text>
<text transform="translate(707.48 1906.77) scale(0.1833 0.1933)" font-family='"Liberation Serif", serif' font-weight="bold" font-size="200" fill="#0c0b0b" stroke="#0c0b0b" stroke-width="2.7" stroke-linejoin="round">*</text>
<text transform="translate(784.04 1900.47) scale(0.1884 0.1987)" font-family='"Liberation Serif", serif' font-weight="bold" font-size="200" fill="#0c0b0b" stroke="#0c0b0b" stroke-width="2.6" stroke-linejoin="round">*</text>
<text transform="translate(803.82 1900.47) scale(0.1884 0.1987)" font-family='"Liberation Serif", serif' font-weight="bold" font-size="200" fill="#0c0b0b" stroke="#0c0b0b" stroke-width="2.6" stroke-linejoin="round">*</text>
<text transform="translate(280.85 2358.55) scale(0.2004 0.1993)" font-family='"Liberation Sans", sans-serif' font-weight="bold" font-size="200" fill="#0c0b0b" stroke="#0c0b0b" stroke-width="2.5" stroke-linejoin="round">NC</text>
<text transform="translate(383.22 2358.55) scale(0.1793 0.1964)" font-family='"Liberation Sans", sans-serif' font-weight="bold" font-size="200" fill="#0c0b0b" stroke="#0c0b0b" stroke-width="2.7" stroke-linejoin="round">Cy</text>
<text transform="translate(501.97 2355.25) scale(0.1757 0.1957)" font-family='"Liberation Sans", sans-serif' font-weight="bold" font-size="200" fill="#0c0b0b" stroke="#0c0b0b" stroke-width="2.7" stroke-linejoin="round">L</text>
<text transform="translate(600.14 2355.75) scale(0.2393 0.2007)" font-family='"Liberation Sans", sans-serif' font-weight="bold" font-size="200" fill="#0c0b0b" stroke="#0c0b0b" stroke-width="2.3" stroke-linejoin="round">M</text>
<text transform="translate(707.40 2355.75) scale(0.2195 0.2007)" font-family='"Liberation Sans", sans-serif' font-weight="bold" font-size="200" fill="#0c0b0b" stroke="#0c0b0b" stroke-width="2.4" stroke-linejoin="round">H</text>
<text transform="translate(798.40 2354.25) scale(0.1807 0.2072)" font-family='"Liberation Sans", sans-serif' font-weight="bold" font-size="200" fill="#0c0b0b" stroke="#0c0b0b" stroke-width="2.6" stroke-linejoin="round">PC</text>
<rect x="498.5" y="2356.6" width="246.4" height="4.2" fill="#0c0b0b"/>
<text transform="translate(585.58 2414.75) scale(0.1930 0.1957)" font-family='"Liberation Sans", sans-serif' font-weight="bold" font-size="200" fill="#0c0b0b" stroke="#0c0b0b" stroke-width="2.6" stroke-linejoin="round">APP</text>
<text transform="translate(91.60 2240.50) rotate(-90) scale(0.2463 0.2449)" x="-13.0" font-family='"Liberation Sans", sans-serif' font-weight="bold" font-size="200" fill="#0c0b0b">IgA content</text>
<text transform="translate(91.60 1942.00) rotate(-90) scale(0.2214 0.2449)" x="-10.0" font-family='"Liberation Sans", sans-serif' font-weight="bold" font-size="200" fill="#0c0b0b">(</text>
<text transform="translate(91.60 1921.80) rotate(-90) scale(0.2661 0.2449)" x="-14.0" font-family='"Liberation Sans", sans-serif' font-weight="bold" font-size="200" fill="#0c0b0b">μg/g</text>
<text transform="translate(91.60 1803.50) rotate(-90) scale(0.2193 0.2449)" x="0.0" font-family='"Liberation Sans", sans-serif' font-weight="bold" font-size="200" fill="#0c0b0b">)</text>
<text transform="translate(52.31 1725.80) scale(0.4642 0.4641)" font-family='"Liberation Serif", serif' font-weight="bold" font-size="200" fill="#0c0b0b">E</text>
<rect x="229.8" y="2337" width="2.4" height="30" fill="#dcdcdc"/>
</g>
<g id="panel-F">
<rect x="1312.4" y="2065.8" width="42.2" height="246.2" fill="#141112"/>
<rect x="1329.7" y="2035.5" width="7.0" height="31.3" fill="#141112"/>
<rect x="1318.8" y="2032.0" width="28.7" height="7.0" rx="3.5" fill="#141112"/>
<rect x="1416.0" y="2168.7" width="41.5" height="143.3" fill="#141112"/>
<rect x="1433.6" y="2089.5" width="7.0" height="80.2" fill="#141112"/>
<rect x="1422.7" y="2086.0" width="28.7" height="7.0" rx="3.5" fill="#141112"/>
<rect x="1518.0" y="2100.2" width="42.4" height="211.8" fill="#141112"/>
<rect x="1536.4" y="2055.1" width="7.0" height="46.1" fill="#141112"/>
<rect x="1525.6" y="2051.5" width="28.7" height="7.1" rx="3.5" fill="#141112"/>
<rect x="1620.5" y="2056.4" width="44.2" height="255.6" fill="#141112"/>
<rect x="1639.2" y="2033.2" width="7.0" height="24.2" fill="#141112"/>
<rect x="1628.0" y="2029.4" width="29.3" height="7.5" rx="3.8" fill="#141112"/>
<rect x="1724.0" y="2025.0" width="44.0" height="287.0" fill="#141112"/>
<rect x="1742.6" y="1958.2" width="7.0" height="67.8" fill="#141112"/>
<rect x="1730.9" y="1954.5" width="30.3" height="7.5" rx="3.8" fill="#141112"/>
<rect x="1827.3" y="2070.6" width="44.2" height="241.4" fill="#141112"/>
<rect x="1845.8" y="1951.5" width="7.0" height="120.1" fill="#141112"/>
<rect x="1834.5" y="1947.8" width="29.7" height="7.4" rx="3.7" fill="#141112"/>
<rect x="1228.0" y="1779.8" width="5.2" height="550.6" fill="#0c0b0b"/>
<rect x="1213.5" y="2309.4" width="845.3" height="5.2" fill="#0c0b0b"/>
<rect x="1213.5" y="1779.7" width="17.1" height="4.6" fill="#0c0b0b"/>
<rect x="1213.5" y="1912.2" width="17.1" height="4.6" fill="#0c0b0b"/>
<rect x="1213.5" y="2044.9" width="17.1" height="4.6" fill="#0c0b0b"/>
<rect x="1213.5" y="2177.4" width="17.1" height="4.6" fill="#0c0b0b"/>
<rect x="1332.3" y="2312.0" width="4.2" height="8.5" fill="#0c0b0b"/>
<rect x="1435.1" y="2312.0" width="4.2" height="8.5" fill="#0c0b0b"/>
<rect x="1538.4" y="2312.0" width="4.2" height="8.5" fill="#0c0b0b"/>
<rect x="1640.9" y="2312.0" width="4.2" height="8.5" fill="#0c0b0b"/>
<rect x="1744.6" y="2312.0" width="4.2" height="8.5" fill="#0c0b0b"/>
<rect x="1846.9" y="2312.0" width="4.2" height="8.5" fill="#0c0b0b"/>
<rect x="1950.4" y="2312.0" width="4.2" height="8.5" fill="#0c0b0b"/>
<rect x="2054.5" y="2312.0" width="4.2" height="8.5" fill="#0c0b0b"/>
<text transform="translate(1165.25 1794.29) scale(0.1995 0.1782)" font-family='"Liberation Sans", sans-serif' font-weight="normal" font-size="200" fill="#0c0b0b" stroke="#0c0b0b" stroke-width="5.8" stroke-linejoin="round">35</text>
<text transform="translate(1165.26 1926.79) scale(0.1986 0.1782)" font-family='"Liberation Sans", sans-serif' font-weight="normal" font-size="200" fill="#0c0b0b" stroke="#0c0b0b" stroke-width="5.8" stroke-linejoin="round">30</text>
<text transform="translate(1164.84 2060.29) scale(0.2015 0.1782)" font-family='"Liberation Sans", sans-serif' font-weight="normal" font-size="200" fill="#0c0b0b" stroke="#0c0b0b" stroke-width="5.8" stroke-linejoin="round">25</text>
<text transform="translate(1164.85 2193.29) scale(0.2005 0.1782)" font-family='"Liberation Sans", sans-serif' font-weight="normal" font-size="200" fill="#0c0b0b" stroke="#0c0b0b" stroke-width="5.8" stroke-linejoin="round">20</text>
<text transform="translate(1165.33 2325.32) scale(0.1945 0.1886)" font-family='"Liberation Sans", sans-serif' font-weight="normal" font-size="200" fill="#0c0b0b" stroke="#0c0b0b" stroke-width="5.7" stroke-linejoin="round">15</text>
<text transform="translate(1219.58 2366.60) scale(0.1844 0.1754)" font-family='"Liberation Sans", sans-serif' font-weight="normal" font-size="200" fill="#0c0b0b" stroke="#0c0b0b" stroke-width="6.1" stroke-linejoin="round">0</text>
<rect x="1308.7" y="1857.4" width="152.8" height="8.4" fill="#0c0b0b"/>
<rect x="1397.4" y="1880.2" width="474.6" height="8.4" fill="#0c0b0b"/>
<text transform="translate(1424.51 2066.85) scale(0.1800 0.1706)" font-family='"Liberation Sans", sans-serif' font-weight="bold" font-size="200" fill="#0c0b0b" stroke="#0c0b0b" stroke-width="7.4" stroke-linejoin="round">#</text>
<text transform="translate(1732.74 1955.61) scale(0.1893 0.2187)" font-family='"Liberation Serif", serif' font-weight="bold" font-size="200" fill="#0c0b0b" stroke="#0c0b0b" stroke-width="2.5" stroke-linejoin="round">*</text>
<text transform="translate(1311.33 2360.75) scale(0.2019 0.2043)" font-family='"Liberation Sans", sans-serif' font-weight="bold" font-size="200" fill="#0c0b0b" stroke="#0c0b0b" stroke-width="2.5" stroke-linejoin="round">NC</text>
<text transform="translate(1413.09 2360.75) scale(0.1829 0.2014)" font-family='"Liberation Sans", sans-serif' font-weight="bold" font-size="200" fill="#0c0b0b" stroke="#0c0b0b" stroke-width="2.6" stroke-linejoin="round">Cy</text>
<text transform="translate(1534.90 2358.45) scale(0.1650 0.2007)" font-family='"Liberation Sans", sans-serif' font-weight="bold" font-size="200" fill="#0c0b0b" stroke="#0c0b0b" stroke-width="2.7" stroke-linejoin="round">L</text>
<text transform="translate(1632.62 2358.75) scale(0.2329 0.2080)" font-family='"Liberation Sans", sans-serif' font-weight="bold" font-size="200" fill="#0c0b0b" stroke="#0c0b0b" stroke-width="2.3" stroke-linejoin="round">M</text>
<text transform="translate(1738.33 2358.75) scale(0.2246 0.2080)" font-family='"Liberation Sans", sans-serif' font-weight="bold" font-size="200" fill="#0c0b0b" stroke="#0c0b0b" stroke-width="2.3" stroke-linejoin="round">H</text>
<text transform="translate(1828.90 2357.75) scale(0.1807 0.2174)" font-family='"Liberation Sans", sans-serif' font-weight="bold" font-size="200" fill="#0c0b0b" stroke="#0c0b0b" stroke-width="2.5" stroke-linejoin="round">PC</text>
<rect x="1529.4" y="2359.8" width="247.0" height="4.4" fill="#0c0b0b"/>
<text transform="translate(1617.09 2418.65) scale(0.1930 0.2094)" font-family='"Liberation Sans", sans-serif' font-weight="bold" font-size="200" fill="#0c0b0b" stroke="#0c0b0b" stroke-width="2.5" stroke-linejoin="round">APP</text>
<text transform="translate(1131.60 2268.00) rotate(-90) scale(0.2411 0.2413)" x="-13.0" font-family='"Liberation Sans", sans-serif' font-weight="bold" font-size="200" fill="#0c0b0b">IgG content</text>
<text transform="translate(1131.60 1980.70) rotate(-90) scale(0.2676 0.2413)" x="-10.0" font-family='"Liberation Sans", sans-serif' font-weight="bold" font-size="200" fill="#0c0b0b">(mg/g</text>
<text transform="translate(1131.60 1829.60) rotate(-90) scale(0.2316 0.2413)" x="0.0" font-family='"Liberation Sans", sans-serif' font-weight="bold" font-size="200" fill="#0c0b0b">)</text>
<text transform="translate(1095.57 1715.70) scale(0.4764 0.4595)" font-family='"Liberation Serif", serif' font-weight="bold" font-size="200" fill="#0c0b0b">F</text>
<rect x="1256.8" y="2336" width="3.2" height="26" fill="#c4c4c4"/>
</g>
<g id="panel-G">
<rect x="285.5" y="2682.5" width="41.2" height="400.2" fill="#141112"/>
<rect x="302.6" y="2661.6" width="7.0" height="21.9" fill="#141112"/>
<rect x="292.6" y="2657.9" width="27.0" height="7.4" rx="3.7" fill="#141112"/>
<rect x="386.0" y="2835.4" width="42.3" height="247.3" fill="#141112"/>
<rect x="404.0" y="2787.2" width="7.0" height="49.2" fill="#141112"/>
<rect x="393.5" y="2783.7" width="28.0" height="7.0" rx="3.5" fill="#141112"/>
<rect x="488.0" y="2665.3" width="41.8" height="417.4" fill="#141112"/>
<rect x="505.2" y="2621.1" width="7.0" height="45.2" fill="#141112"/>
<rect x="494.7" y="2617.4" width="28.0" height="7.4" rx="3.7" fill="#141112"/>
<rect x="588.0" y="2687.2" width="43.8" height="395.5" fill="#141112"/>
<rect x="606.4" y="2641.9" width="7.0" height="46.3" fill="#141112"/>
<rect x="595.4" y="2638.3" width="29.0" height="7.2" rx="3.6" fill="#141112"/>
<rect x="690.2" y="2694.3" width="42.2" height="388.4" fill="#141112"/>
<rect x="707.8" y="2673.3" width="7.0" height="22.0" fill="#141112"/>
<rect x="697.0" y="2669.7" width="28.6" height="7.3" rx="3.7" fill="#141112"/>
<rect x="791.4" y="2650.4" width="42.9" height="432.3" fill="#141112"/>
<rect x="809.7" y="2586.2" width="7.0" height="65.2" fill="#141112"/>
<rect x="798.9" y="2582.6" width="28.6" height="7.2" rx="3.6" fill="#141112"/>
<rect x="202.1" y="2539.4" width="5.2" height="560.9" fill="#0c0b0b"/>
<rect x="187.7" y="3079.9" width="831.9" height="5.6" fill="#0c0b0b"/>
<rect x="185.3" y="2539.4" width="19.4" height="4.8" fill="#0c0b0b"/>
<rect x="185.3" y="2674.9" width="19.4" height="4.8" fill="#0c0b0b"/>
<rect x="185.3" y="2810.1" width="19.4" height="4.8" fill="#0c0b0b"/>
<rect x="185.3" y="2944.6" width="19.4" height="4.8" fill="#0c0b0b"/>
<rect x="303.7" y="3082.7" width="4.2" height="8.8" fill="#0c0b0b"/>
<rect x="404.9" y="3082.7" width="4.2" height="8.8" fill="#0c0b0b"/>
<rect x="506.9" y="3082.7" width="4.2" height="8.8" fill="#0c0b0b"/>
<rect x="607.9" y="3082.7" width="4.2" height="8.8" fill="#0c0b0b"/>
<rect x="708.9" y="3082.7" width="4.2" height="8.8" fill="#0c0b0b"/>
<rect x="810.2" y="3082.7" width="4.2" height="8.8" fill="#0c0b0b"/>
<rect x="912.5" y="3082.7" width="4.2" height="8.8" fill="#0c0b0b"/>
<rect x="1015.3" y="3082.7" width="4.2" height="8.8" fill="#0c0b0b"/>
<text transform="translate(120.02 2553.45) scale(0.1832 0.1775)" font-family='"Liberation Sans", sans-serif' font-weight="normal" font-size="200" fill="#0c0b0b" stroke="#0c0b0b" stroke-width="6.1" stroke-linejoin="round">400</text>
<text transform="translate(119.27 2689.05) scale(0.1855 0.1775)" font-family='"Liberation Sans", sans-serif' font-weight="normal" font-size="200" fill="#0c0b0b" stroke="#0c0b0b" stroke-width="6.1" stroke-linejoin="round">300</text>
<text transform="translate(118.88 2824.75) scale(0.1867 0.1775)" font-family='"Liberation Sans", sans-serif' font-weight="normal" font-size="200" fill="#0c0b0b" stroke="#0c0b0b" stroke-width="6.0" stroke-linejoin="round">200</text>
<text transform="translate(120.84 2959.34) scale(0.1807 0.1789)" font-family='"Liberation Sans", sans-serif' font-weight="normal" font-size="200" fill="#0c0b0b" stroke="#0c0b0b" stroke-width="6.1" stroke-linejoin="round">100</text>
<text transform="translate(162.49 3095.64) scale(0.1823 0.1789)" font-family='"Liberation Sans", sans-serif' font-weight="normal" font-size="200" fill="#0c0b0b" stroke="#0c0b0b" stroke-width="6.1" stroke-linejoin="round">0</text>
<rect x="291.6" y="2502.7" width="149.4" height="8.3" fill="#0c0b0b"/>
<rect x="378.3" y="2524.6" width="465.4" height="7.8" fill="#0c0b0b"/>
<text transform="translate(381.79 2759.35) scale(0.1861 0.1596)" font-family='"Liberation Sans", sans-serif' font-weight="bold" font-size="200" fill="#0c0b0b" stroke="#0c0b0b" stroke-width="7.5" stroke-linejoin="round">##</text>
<text transform="translate(489.08 2614.77) scale(0.1833 0.1933)" font-family='"Liberation Serif", serif' font-weight="bold" font-size="200" fill="#0c0b0b" stroke="#0c0b0b" stroke-width="2.7" stroke-linejoin="round">*</text>
<text transform="translate(509.88 2614.77) scale(0.1833 0.1933)" font-family='"Liberation Serif", serif' font-weight="bold" font-size="200" fill="#0c0b0b" stroke="#0c0b0b" stroke-width="2.7" stroke-linejoin="round">*</text>
<text transform="translate(589.46 2636.72) scale(0.1859 0.1960)" font-family='"Liberation Serif", serif' font-weight="bold" font-size="200" fill="#0c0b0b" stroke="#0c0b0b" stroke-width="2.6" stroke-linejoin="round">*</text>
<text transform="translate(610.45 2636.72) scale(0.1859 0.1960)" font-family='"Liberation Serif", serif' font-weight="bold" font-size="200" fill="#0c0b0b" stroke="#0c0b0b" stroke-width="2.6" stroke-linejoin="round">*</text>
<text transform="translate(689.66 2664.72) scale(0.1859 0.1960)" font-family='"Liberation Serif", serif' font-weight="bold" font-size="200" fill="#0c0b0b" stroke="#0c0b0b" stroke-width="2.6" stroke-linejoin="round">*</text>
<text transform="translate(710.65 2664.72) scale(0.1859 0.1960)" font-family='"Liberation Serif", serif' font-weight="bold" font-size="200" fill="#0c0b0b" stroke="#0c0b0b" stroke-width="2.6" stroke-linejoin="round">*</text>
<text transform="translate(792.53 2581.15) scale(0.1896 0.2000)" font-family='"Liberation Serif", serif' font-weight="bold" font-size="200" fill="#0c0b0b" stroke="#0c0b0b" stroke-width="2.6" stroke-linejoin="round">*</text>
<text transform="translate(813.30 2581.15) scale(0.1896 0.2000)" font-family='"Liberation Serif", serif' font-weight="bold" font-size="200" fill="#0c0b0b" stroke="#0c0b0b" stroke-width="2.6" stroke-linejoin="round">*</text>
<text transform="translate(275.63 3138.15) scale(0.2019 0.1993)" font-family='"Liberation Sans", sans-serif' font-weight="bold" font-size="200" fill="#0c0b0b" stroke="#0c0b0b" stroke-width="2.5" stroke-linejoin="round">NC</text>
<text transform="translate(376.41 3138.15) scale(0.1805 0.1964)" font-family='"Liberation Sans", sans-serif' font-weight="bold" font-size="200" fill="#0c0b0b" stroke="#0c0b0b" stroke-width="2.7" stroke-linejoin="round">Cy</text>
<text transform="translate(495.28 3136.45) scale(0.1670 0.1993)" font-family='"Liberation Sans", sans-serif' font-weight="bold" font-size="200" fill="#0c0b0b" stroke="#0c0b0b" stroke-width="2.7" stroke-linejoin="round">L</text>
<text transform="translate(590.16 3136.45) scale(0.2379 0.2022)" font-family='"Liberation Sans", sans-serif' font-weight="bold" font-size="200" fill="#0c0b0b" stroke="#0c0b0b" stroke-width="2.3" stroke-linejoin="round">M</text>
<text transform="translate(695.04 3136.45) scale(0.2161 0.2022)" font-family='"Liberation Sans", sans-serif' font-weight="bold" font-size="200" fill="#0c0b0b" stroke="#0c0b0b" stroke-width="2.4" stroke-linejoin="round">H</text>
<text transform="translate(783.31 3134.75) scale(0.1803 0.2065)" font-family='"Liberation Sans", sans-serif' font-weight="bold" font-size="200" fill="#0c0b0b" stroke="#0c0b0b" stroke-width="2.6" stroke-linejoin="round">PC</text>
<rect x="490.8" y="3137.4" width="241.6" height="4.2" fill="#0c0b0b"/>
<text transform="translate(575.30 3193.75) scale(0.1907 0.2036)" font-family='"Liberation Sans", sans-serif' font-weight="bold" font-size="200" fill="#0c0b0b" stroke="#0c0b0b" stroke-width="2.5" stroke-linejoin="round">APP</text>
<text transform="translate(79.00 2926.50) rotate(-90) scale(0.2470 0.2442)" x="-13.0" font-family='"Liberation Sans", sans-serif' font-weight="bold" font-size="200" fill="#0c0b0b">IgA(μg/mL)</text>
<text transform="translate(44.05 2498.39) scale(0.4650 0.4530)" font-family='"Liberation Serif", serif' font-weight="bold" font-size="200" fill="#0c0b0b">G</text>
</g>
<g id="panel-H">
<rect x="1278.0" y="2710.2" width="43.0" height="372.5" fill="#141112"/>
<rect x="1296.2" y="2627.2" width="7.2" height="83.9" fill="#141112"/>
<rect x="1285.0" y="2623.5" width="29.6" height="7.5" rx="3.8" fill="#141112"/>
<rect x="1381.0" y="2865.2" width="42.2" height="217.5" fill="#141112"/>
<rect x="1398.6" y="2802.3" width="7.2" height="63.9" fill="#141112"/>
<rect x="1387.7" y="2798.6" width="29.0" height="7.4" rx="3.7" fill="#141112"/>
<rect x="1483.4" y="2854.2" width="42.6" height="228.5" fill="#141112"/>
<rect x="1501.5" y="2750.0" width="7.2" height="105.2" fill="#141112"/>
<rect x="1490.6" y="2746.3" width="29.0" height="7.4" rx="3.7" fill="#141112"/>
<rect x="1585.2" y="2870.0" width="43.6" height="212.7" fill="#141112"/>
<rect x="1604.2" y="2796.4" width="7.2" height="74.6" fill="#141112"/>
<rect x="1593.5" y="2792.6" width="28.5" height="7.6" rx="3.8" fill="#141112"/>
<rect x="1688.4" y="2886.6" width="42.6" height="196.1" fill="#141112"/>
<rect x="1706.5" y="2835.3" width="7.2" height="52.2" fill="#141112"/>
<rect x="1695.7" y="2831.7" width="28.7" height="7.3" rx="3.7" fill="#141112"/>
<rect x="1791.8" y="2886.6" width="42.0" height="196.1" fill="#141112"/>
<rect x="1809.1" y="2829.6" width="7.2" height="58.0" fill="#141112"/>
<rect x="1798.0" y="2825.8" width="29.3" height="7.5" rx="3.8" fill="#141112"/>
<rect x="1194.6" y="2537.8" width="5.4" height="561.8" fill="#0c0b0b"/>
<rect x="1181.2" y="3079.9" width="839.6" height="5.6" fill="#0c0b0b"/>
<rect x="1180.3" y="2537.6" width="17.0" height="4.8" fill="#0c0b0b"/>
<rect x="1180.3" y="2717.6" width="17.0" height="4.8" fill="#0c0b0b"/>
<rect x="1180.3" y="2898.0" width="17.0" height="4.8" fill="#0c0b0b"/>
<rect x="1292.7" y="3082.7" width="5.0" height="15.8" fill="#0c0b0b"/>
<rect x="1395.5" y="3082.7" width="5.0" height="15.8" fill="#0c0b0b"/>
<rect x="1498.2" y="3082.7" width="5.0" height="15.8" fill="#0c0b0b"/>
<rect x="1600.9" y="3082.7" width="5.0" height="15.8" fill="#0c0b0b"/>
<rect x="1703.8" y="3082.7" width="5.0" height="15.8" fill="#0c0b0b"/>
<rect x="1806.7" y="3082.7" width="5.0" height="15.8" fill="#0c0b0b"/>
<rect x="1909.5" y="3082.7" width="5.0" height="15.8" fill="#0c0b0b"/>
<text transform="translate(1132.78 2551.59) scale(0.1841 0.1824)" font-family='"Liberation Sans", sans-serif' font-weight="normal" font-size="200" fill="#0c0b0b" stroke="#0c0b0b" stroke-width="6.0" stroke-linejoin="round">30</text>
<text transform="translate(1132.38 2732.19) scale(0.1868 0.1824)" font-family='"Liberation Sans", sans-serif' font-weight="normal" font-size="200" fill="#0c0b0b" stroke="#0c0b0b" stroke-width="6.0" stroke-linejoin="round">25</text>
<text transform="translate(1132.91 2915.39) scale(0.1839 0.1824)" font-family='"Liberation Sans", sans-serif' font-weight="normal" font-size="200" fill="#0c0b0b" stroke="#0c0b0b" stroke-width="6.0" stroke-linejoin="round">20</text>
<text transform="translate(1132.63 3095.57) scale(0.1945 0.1921)" font-family='"Liberation Sans", sans-serif' font-weight="normal" font-size="200" fill="#0c0b0b" stroke="#0c0b0b" stroke-width="5.7" stroke-linejoin="round">15</text>
<rect x="1279.8" y="2529.0" width="148.7" height="8.0" fill="#0c0b0b"/>
<text transform="translate(1382.08 2769.35) scale(0.1884 0.1772)" font-family='"Liberation Sans", sans-serif' font-weight="bold" font-size="200" fill="#0c0b0b" stroke="#0c0b0b" stroke-width="7.1" stroke-linejoin="round">##</text>
<text transform="translate(1272.67 3138.15) scale(0.1981 0.1993)" font-family='"Liberation Sans", sans-serif' font-weight="bold" font-size="200" fill="#0c0b0b" stroke="#0c0b0b" stroke-width="2.5" stroke-linejoin="round">NC</text>
<text transform="translate(1373.29 3138.15) scale(0.1829 0.1964)" font-family='"Liberation Sans", sans-serif' font-weight="bold" font-size="200" fill="#0c0b0b" stroke="#0c0b0b" stroke-width="2.6" stroke-linejoin="round">Cy</text>
<text transform="translate(1492.13 3135.95) scale(0.1631 0.1986)" font-family='"Liberation Sans", sans-serif' font-weight="bold" font-size="200" fill="#0c0b0b" stroke="#0c0b0b" stroke-width="2.8" stroke-linejoin="round">L</text>
<text transform="translate(1587.11 3136.45) scale(0.2414 0.2022)" font-family='"Liberation Sans", sans-serif' font-weight="bold" font-size="200" fill="#0c0b0b" stroke="#0c0b0b" stroke-width="2.3" stroke-linejoin="round">M</text>
<text transform="translate(1693.02 3136.45) scale(0.2102 0.2022)" font-family='"Liberation Sans", sans-serif' font-weight="bold" font-size="200" fill="#0c0b0b" stroke="#0c0b0b" stroke-width="2.4" stroke-linejoin="round">H</text>
<text transform="translate(1781.15 3134.75) scale(0.1768 0.2065)" font-family='"Liberation Sans", sans-serif' font-weight="bold" font-size="200" fill="#0c0b0b" stroke="#0c0b0b" stroke-width="2.6" stroke-linejoin="round">PC</text>
<rect x="1486.5" y="3137.0" width="242.5" height="4.4" fill="#0c0b0b"/>
<text transform="translate(1572.31 3193.75) scale(0.1888 0.2036)" font-family='"Liberation Sans", sans-serif' font-weight="bold" font-size="200" fill="#0c0b0b" stroke="#0c0b0b" stroke-width="2.5" stroke-linejoin="round">APP</text>
<text transform="translate(1101.00 2933.30) rotate(-90) scale(0.2460 0.2428)" x="-13.0" font-family='"Liberation Sans", sans-serif' font-weight="bold" font-size="200" fill="#0c0b0b">IgG(mg/mL)</text>
<text transform="translate(1058.41 2496.00) scale(0.4644 0.4641)" font-family='"Liberation Serif", serif' font-weight="bold" font-size="200" fill="#0c0b0b">H</text>
</g>
</g>
</svg>
</body></html>
